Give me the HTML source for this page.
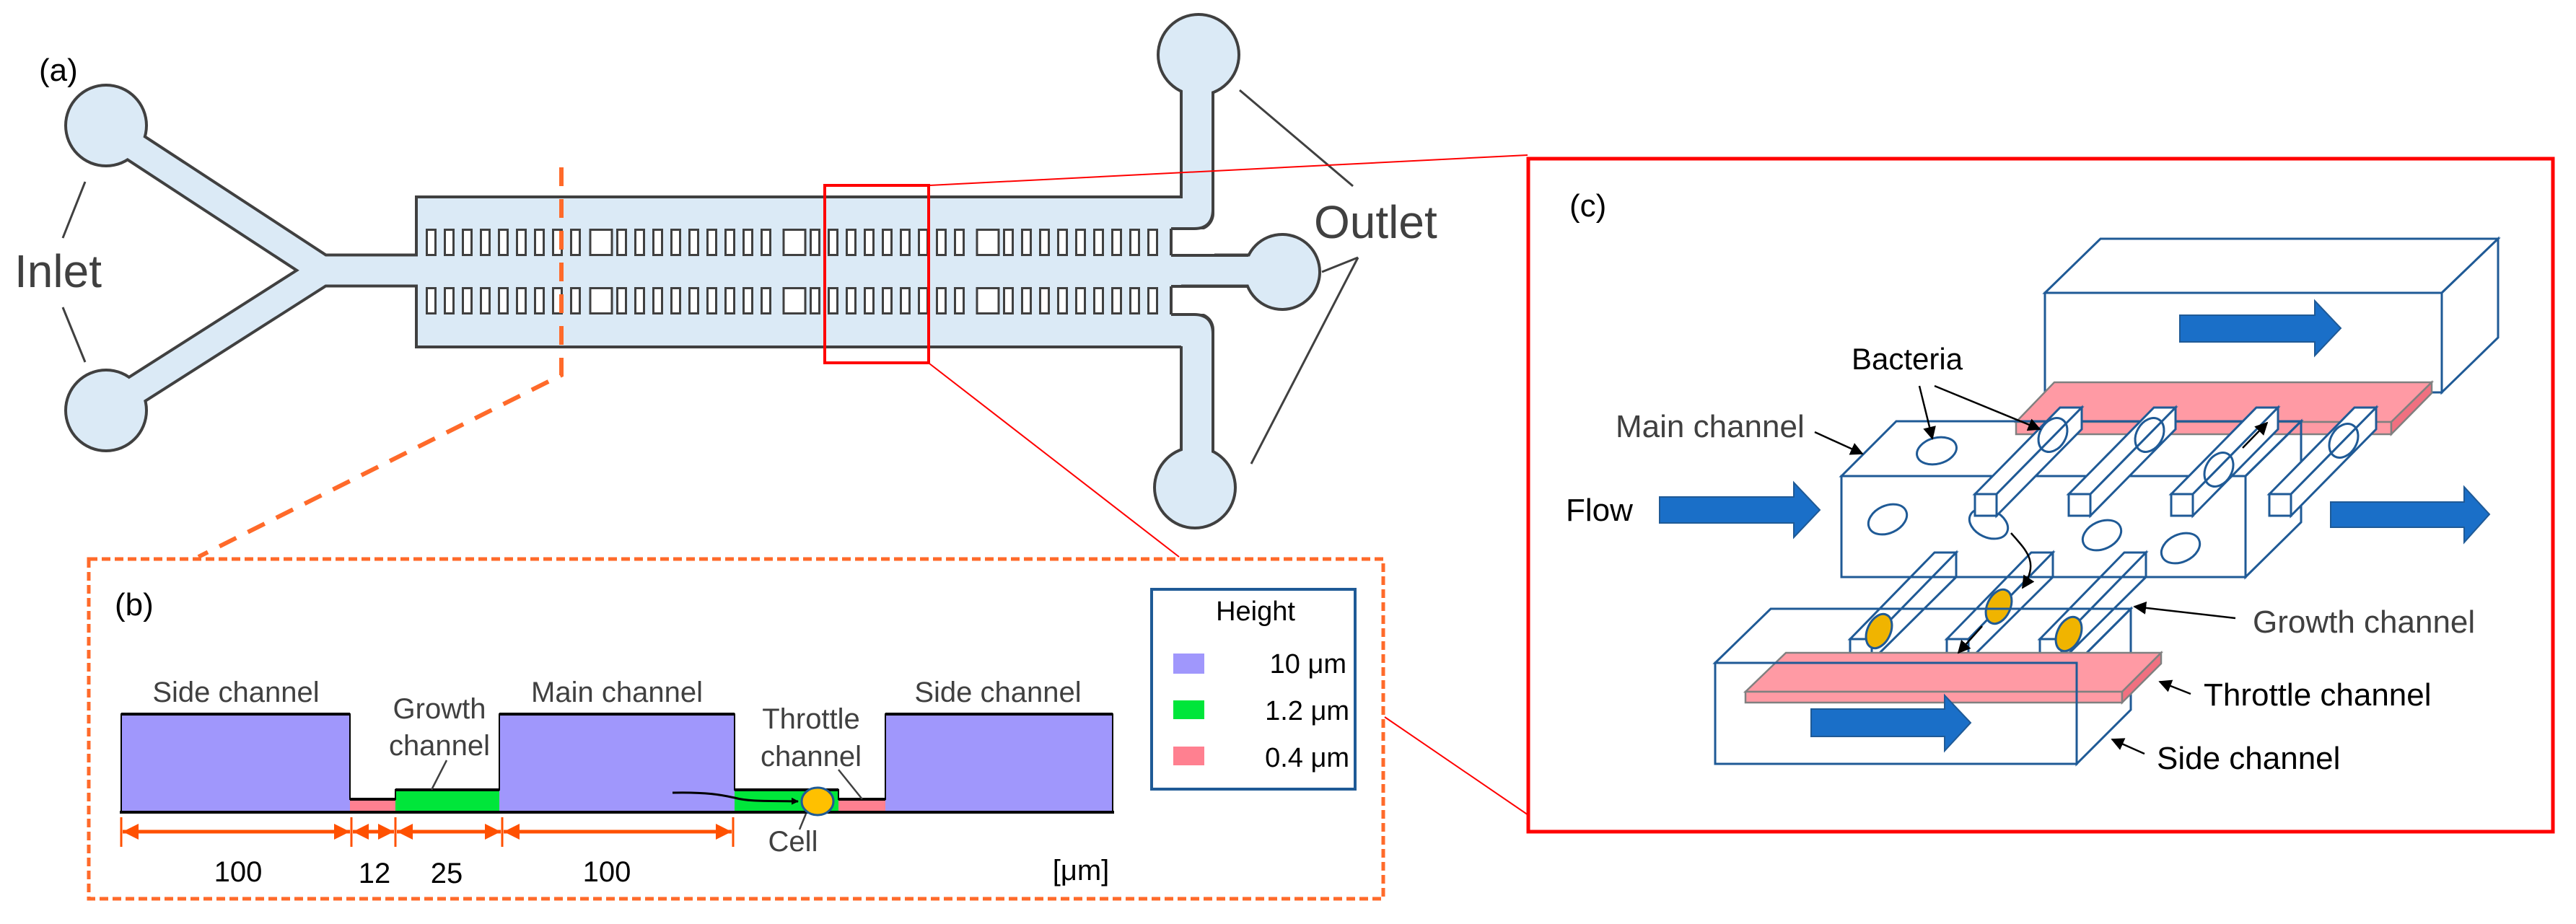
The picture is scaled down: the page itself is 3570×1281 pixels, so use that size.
<!DOCTYPE html>
<html><head><meta charset="utf-8"><style>html,body{margin:0;padding:0;background:#fff}svg{display:block}</style></head>
<body>
<svg width="3570" height="1281" viewBox="0 0 3570 1281" xmlns="http://www.w3.org/2000/svg" font-family="Liberation Sans, Arial, sans-serif">
<defs>
<pattern id="ch" patternUnits="userSpaceOnUse" width="25" height="40" x="0" y="0">
<rect x="2.5" y="1.5" width="12" height="35" fill="#fff" stroke="#404040" stroke-width="3"/>
</pattern>
<marker id="ab" markerWidth="10" markerHeight="10" refX="9" refY="5" orient="auto" markerUnits="userSpaceOnUse"><path d="M0,0 L10,5 L0,10 z" fill="#000"/></marker>
<marker id="ak" viewBox="0 0 10 10" markerWidth="18" markerHeight="18" refX="9" refY="5" orient="auto" markerUnits="userSpaceOnUse"><path d="M0,0 L10,5 L0,10 z" fill="#000"/></marker>
<marker id="ao" viewBox="0 0 10 10" markerWidth="22" markerHeight="22" refX="10" refY="5" orient="auto" markerUnits="userSpaceOnUse"><path d="M0,0 L10,5 L0,10 z" fill="#ff5000"/></marker>
<marker id="aos" viewBox="0 0 10 10" markerWidth="22" markerHeight="22" refX="0" refY="5" orient="auto" markerUnits="userSpaceOnUse"><path d="M10,0 L0,5 L10,10 z" fill="#ff5000"/></marker>
</defs>

<!-- ===== Panel (a) ===== -->
<text x="54" y="112" font-size="44" fill="#000">(a)</text>
<g stroke-linecap="butt" fill="none">
 <g stroke="#404040">
  <line x1="150" y1="180" x2="448" y2="375" stroke-width="44"/>
  <line x1="150" y1="565" x2="448" y2="375" stroke-width="44"/>
  <line x1="430" y1="375" x2="1777" y2="375" stroke-width="47"/>
  <path d="M1659,76 V296 L1620,296" stroke-width="48" stroke-linejoin="round"/>
  <path d="M1659,676 V457 L1620,457" stroke-width="48" stroke-linejoin="round"/>
 </g>
 <g fill="#404040" stroke="none">
  <circle cx="147" cy="174" r="58"/><circle cx="147" cy="569" r="58"/>
  <circle cx="1661" cy="76" r="58"/><circle cx="1656" cy="676" r="58"/>
  <circle cx="1777" cy="377" r="54"/>
  <rect x="575" y="271" width="1066" height="212"/>
 </g>
 <g stroke="#dbeaf6">
  <line x1="150" y1="180" x2="448" y2="375" stroke-width="36"/>
  <line x1="150" y1="565" x2="448" y2="375" stroke-width="36"/>
  <line x1="430" y1="375" x2="1777" y2="375" stroke-width="39"/>
  <path d="M1659,76 V296 L1600,296" stroke-width="40" stroke-linejoin="round"/>
  <path d="M1659,676 V457 L1600,457" stroke-width="40" stroke-linejoin="round"/>
 </g>
 <g fill="#dbeaf6" stroke="none">
  <circle cx="147" cy="174" r="54"/><circle cx="147" cy="569" r="54"/>
  <circle cx="1661" cy="76" r="54"/><circle cx="1656" cy="676" r="54"/>
  <circle cx="1777" cy="377" r="50"/>
  <rect x="579" y="275" width="1058" height="204"/>
  <rect x="1637" y="275" width="40" height="30"/>
  <rect x="1637" y="450" width="40" height="30"/>
 </g>
 <rect x="1623" y="318" width="60" height="35" fill="#fff"/>
 <rect x="1623" y="398" width="60" height="37" fill="#fff"/>
 <path d="M1623,317 H1655 Q1681,317 1681,290" stroke="#404040" stroke-width="4" fill="none"/>
 <path d="M1623,354 H1730" stroke="#404040" stroke-width="4"/>
 <path d="M1623,397 H1730" stroke="#404040" stroke-width="4"/>
 <path d="M1623,436 H1655 Q1681,436 1681,463" stroke="#404040" stroke-width="4" fill="none"/>
 <line x1="1623" y1="317" x2="1623" y2="354" stroke="#404040" stroke-width="4"/>
 <line x1="1623" y1="397" x2="1623" y2="436" stroke="#404040" stroke-width="4"/>
</g>
<g>
 <g transform="translate(589,317)"><rect x="0" y="0" width="225" height="40" fill="url(#ch)"/></g>
 <g transform="translate(853,317)"><rect x="0" y="0" width="225" height="40" fill="url(#ch)"/></g>
 <g transform="translate(1121,317)"><rect x="0" y="0" width="225" height="40" fill="url(#ch)"/></g>
 <g transform="translate(1389,317)"><rect x="0" y="0" width="225" height="40" fill="url(#ch)"/></g>
 <g transform="translate(589,398)"><rect x="0" y="0" width="225" height="40" fill="url(#ch)"/></g>
 <g transform="translate(853,398)"><rect x="0" y="0" width="225" height="40" fill="url(#ch)"/></g>
 <g transform="translate(1121,398)"><rect x="0" y="0" width="225" height="40" fill="url(#ch)"/></g>
 <g transform="translate(1389,398)"><rect x="0" y="0" width="225" height="40" fill="url(#ch)"/></g>
 <g fill="#fff" stroke="#404040" stroke-width="3">
  <rect x="818" y="318.5" width="30" height="35"/><rect x="1086" y="318.5" width="30" height="35"/><rect x="1354" y="318.5" width="30" height="35"/>
  <rect x="818" y="399.5" width="30" height="35"/><rect x="1086" y="399.5" width="30" height="35"/><rect x="1354" y="399.5" width="30" height="35"/>
 </g>
</g>
<text x="20" y="398" font-size="64" fill="#404040">Inlet</text>
<text x="1821" y="330" font-size="64" fill="#404040">Outlet</text>
<g stroke="#404040" stroke-width="3">
 <line x1="118" y1="252" x2="87" y2="330"/><line x1="87" y1="426" x2="118" y2="502"/>
 <line x1="1718" y1="125" x2="1875" y2="258"/><line x1="1882" y1="357" x2="1832" y2="377"/><line x1="1882" y1="357" x2="1734" y2="643"/>
</g>
<rect x="1143" y="257" width="144" height="246" fill="none" stroke="#ff0000" stroke-width="4"/>
<line x1="1288" y1="257" x2="2117" y2="215" stroke="#ff0000" stroke-width="2"/>
<line x1="1288" y1="504" x2="1634" y2="772" stroke="#ff0000" stroke-width="2"/>
<line x1="1919" y1="994" x2="2118" y2="1130" stroke="#ff0000" stroke-width="2"/>
<path d="M778,232 V520 L275,772" fill="none" stroke="#ff6a2a" stroke-width="6" stroke-dasharray="26,18"/>

<!-- ===== Panel (b) ===== -->
<rect x="123" y="775" width="1794" height="471" fill="none" stroke="#ff6a2a" stroke-width="5" stroke-dasharray="12,6"/>
<text x="159" y="853" font-size="44" fill="#000">(b)</text>
<g stroke="none">
 <rect x="168" y="990" width="317" height="136" fill="#a097fc"/>
 <rect x="485" y="1108" width="63" height="18" fill="#ff8090"/>
 <rect x="548" y="1095" width="144" height="31" fill="#00e63a"/>
 <rect x="692" y="990" width="326" height="136" fill="#a097fc"/>
 <rect x="1018" y="1095" width="144" height="31" fill="#00e63a"/>
 <rect x="1162" y="1108" width="65" height="18" fill="#ff8090"/>
 <rect x="1227" y="990" width="315" height="136" fill="#a097fc"/>
</g>
<path d="M168,1126 V990 H485 V1108 H548 V1095 H692 V990 H1018 V1095 H1162 V1108 H1227 V990 H1542 V1126 Z" fill="none" stroke="#000" stroke-width="2"/>
<g stroke="#000" stroke-width="4">
 <line x1="168" y1="990" x2="485" y2="990"/><line x1="692" y1="990" x2="1018" y2="990"/><line x1="1227" y1="990" x2="1542" y2="990"/>
 <line x1="485" y1="1108" x2="548" y2="1108"/><line x1="548" y1="1095" x2="692" y2="1095"/><line x1="1018" y1="1095" x2="1162" y2="1095"/><line x1="1162" y1="1108" x2="1227" y2="1108"/>
 <line x1="166" y1="1126" x2="1544" y2="1126"/>
</g>
<path d="M932,1099 C980,1098 1000,1102 1018,1106 C1040,1112 1070,1110 1106,1111" fill="none" stroke="#000" stroke-width="3" marker-end="url(#ab)"/>
<ellipse cx="1133" cy="1111" rx="22" ry="19" fill="#ffc000" stroke="#1f5a96" stroke-width="3"/>
<g font-size="40" fill="#404040" text-anchor="middle">
 <text x="327" y="973">Side channel</text>
 <text x="855" y="973">Main channel</text>
 <text x="1383" y="973">Side channel</text>
 <text x="609" y="996">Growth</text>
 <text x="609" y="1047">channel</text>
 <text x="1124" y="1010">Throttle</text>
 <text x="1124" y="1062">channel</text>
 <text x="1099" y="1180">Cell</text>
</g>
<g stroke="#404040" stroke-width="2.5">
 <line x1="619" y1="1054" x2="598" y2="1095"/><line x1="1162" y1="1067" x2="1195" y2="1108"/><line x1="1117" y1="1128" x2="1108" y2="1150"/>
</g>
<g stroke="#ff5000" stroke-width="3">
 <line x1="168" y1="1133" x2="168" y2="1174"/><line x1="487" y1="1133" x2="487" y2="1174"/><line x1="548" y1="1133" x2="548" y2="1174"/><line x1="696" y1="1133" x2="696" y2="1174"/><line x1="1016" y1="1133" x2="1016" y2="1174"/>
</g>
<g stroke="#ff5000" stroke-width="5" marker-end="url(#ao)" marker-start="url(#aos)">
 <line x1="170" y1="1153" x2="485" y2="1153"/>
 <line x1="489" y1="1153" x2="546" y2="1153"/>
 <line x1="550" y1="1153" x2="694" y2="1153"/>
 <line x1="698" y1="1153" x2="1014" y2="1153"/>
</g>
<g font-size="40" fill="#000" text-anchor="middle">
 <text x="330" y="1222">100</text><text x="519" y="1224">12</text><text x="619" y="1224">25</text><text x="841" y="1222">100</text><text x="1498" y="1220">[μm]</text>
</g>
<rect x="1596" y="817" width="282" height="277" fill="#fff" stroke="#1f5a96" stroke-width="4"/>
<text x="1740" y="860" font-size="38" fill="#000" text-anchor="middle">Height</text>
<rect x="1626" y="906" width="43" height="28" fill="#a097fc"/>
<rect x="1626" y="971" width="43" height="26" fill="#00e63a"/>
<rect x="1626" y="1035" width="43" height="26" fill="#ff8090"/>
<g font-size="38" fill="#000" text-anchor="end">
 <text x="1866" y="933">10 μm</text><text x="1870" y="998">1.2 μm</text><text x="1870" y="1063">0.4 μm</text>
</g>

<!-- ===== Panel (c) ===== -->
<rect x="2118" y="220" width="1420" height="933" fill="none" stroke="#ff0000" stroke-width="5"/>
<text x="2175" y="300" font-size="44" fill="#000">(c)</text>
<g stroke="#1f5a96" stroke-width="3" fill="none" stroke-linejoin="miter">
 <rect x="2834" y="406" width="550" height="138" fill="#fff"/>
 <polygon points="2834,406 2911,331 3462,331 3384,406" fill="#fff"/>
 <polygon points="3384,406 3462,331 3462,468 3384,544" fill="#fff"/>
</g>
<path d="M3021,437 H3208 V417 L3244,455 L3208,493 V474 H3021 Z" fill="#1a6fc8" stroke="#1f5a96" stroke-width="2"/>
<g stroke="#808080" stroke-width="2.5">
 <polygon points="2847,530 3370,530 3314,585 2794,585" fill="#ff9aa4"/>
 <rect x="2794" y="585" width="520" height="17" fill="#ff9aa4"/>
 <polygon points="3314,585 3370,530 3370,545 3314,602" fill="#f07080"/>
</g>
<g stroke="#1f5a96" stroke-width="3" fill="none">
 <rect x="2552" y="660" width="560" height="140"/>
 <polygon points="2552,660 2628,584 3189,584 3112,660"/>
 <polygon points="3112,660 3189,584 3189,724 3112,800"/>
 <ellipse cx="2684" cy="625" rx="28" ry="18" transform="rotate(-15 2684 625)"/>
 <ellipse cx="2616" cy="720" rx="28" ry="19" transform="rotate(-25 2616 720)"/>
 <ellipse cx="2756" cy="726" rx="28" ry="19" transform="rotate(25 2756 726)"/>
 <ellipse cx="2913" cy="742" rx="28" ry="19" transform="rotate(-25 2913 742)"/>
 <ellipse cx="3022" cy="760" rx="28" ry="19" transform="rotate(-25 3022 760)"/>
</g>
<g stroke="#1f5a96" stroke-width="3" fill="#fff">
 <polygon points="2737,685 2855,565 2885,565 2767,685"/><polygon points="2767,685 2885,565 2885,595 2767,715"/><rect x="2737" y="685" width="30" height="30"/>
 <polygon points="2867,685 2985,565 3015,565 2897,685"/><polygon points="2897,685 3015,565 3015,595 2897,715"/><rect x="2867" y="685" width="30" height="30"/>
 <polygon points="3009,685 3127,565 3157,565 3039,685"/><polygon points="3039,685 3157,565 3157,595 3039,715"/><rect x="3009" y="685" width="30" height="30"/>
 <polygon points="3145,685 3263,565 3293,565 3175,685"/><polygon points="3175,685 3293,565 3293,595 3175,715"/><rect x="3145" y="685" width="30" height="30"/>
</g>
<g stroke="#1f5a96" stroke-width="3" fill="none">
 <ellipse cx="2845" cy="603" rx="18" ry="25" transform="rotate(30 2845 603)"/>
 <ellipse cx="2979" cy="603" rx="18" ry="25" transform="rotate(30 2979 603)"/>
 <ellipse cx="3075" cy="651" rx="18" ry="25" transform="rotate(30 3075 651)"/>
 <ellipse cx="3248" cy="611" rx="18" ry="25" transform="rotate(30 3248 611)"/>
</g>
<g stroke="#1f5a96" stroke-width="3" fill="#fff">
 <polygon points="2564,886 2681,766 2711,766 2594,886"/><polygon points="2594,886 2711,766 2711,800 2594,916"/><rect x="2564" y="886" width="30" height="30"/>
 <polygon points="2698,886 2815,766 2845,766 2728,886"/><polygon points="2728,886 2845,766 2845,800 2728,916"/><rect x="2698" y="886" width="30" height="30"/>
 <polygon points="2827,886 2944,766 2974,766 2857,886"/><polygon points="2857,886 2974,766 2974,800 2857,916"/><rect x="2827" y="886" width="30" height="30"/>
</g>
<line x1="2552" y1="800" x2="3112" y2="800" stroke="#1f5a96" stroke-width="3"/>
<g fill="#f0b400" stroke="#1f5a96" stroke-width="3">
 <ellipse cx="2604" cy="875" rx="16" ry="25" transform="rotate(25 2604 875)"/>
 <ellipse cx="2770" cy="841" rx="16" ry="25" transform="rotate(25 2770 841)"/>
 <ellipse cx="2867" cy="879" rx="16" ry="25" transform="rotate(25 2867 879)"/>
</g>
<g stroke="#1f5a96" stroke-width="3" fill="none">
 <polygon points="2377,919 2454,844 2953,844 2878,919"/>
 <polygon points="2878,919 2953,844 2953,984 2878,1059"/>
</g>
<g stroke="#808080" stroke-width="2.5">
 <polygon points="2475,905 2995,905 2941,959 2419,959" fill="#ff9aa4"/>
 <rect x="2419" y="959" width="522" height="15" fill="#ff9aa4"/>
 <polygon points="2941,959 2995,905 2995,920 2941,974" fill="#f07080"/>
</g>
<rect x="2377" y="919" width="501" height="140" fill="none" stroke="#1f5a96" stroke-width="3"/>
<path d="M2510,983 H2695 V964 L2731,1002 L2695,1041 V1021 H2510 Z" fill="#1a6fc8" stroke="#1f5a96" stroke-width="2"/>
<path d="M2300,689 H2486 V669 L2522,707 L2486,745 V725 H2300 Z" fill="#1a6fc8" stroke="#1f5a96" stroke-width="2"/>
<path d="M3230,696 H3415 V675 L3450,713 L3415,752 V731 H3230 Z" fill="#1a6fc8" stroke="#1f5a96" stroke-width="2"/>
<text x="2170" y="722" font-size="44" fill="#000">Flow</text>
<text x="2566" y="512" font-size="42" fill="#000">Bacteria</text>
<text x="2239" y="606" font-size="44" fill="#404040">Main channel</text>
<text x="3122" y="877" font-size="44" fill="#404040">Growth channel</text>
<text x="3054" y="978" font-size="44" fill="#000">Throttle channel</text>
<text x="2989" y="1066" font-size="44" fill="#000">Side channel</text>
<g stroke="#000" stroke-width="2.5" fill="none" marker-end="url(#ak)">
 <line x1="2660" y1="535" x2="2678" y2="608"/>
 <line x1="2681" y1="535" x2="2827" y2="595"/>
 <line x1="2515" y1="599" x2="2581" y2="629"/>
 <line x1="3098" y1="857" x2="2958" y2="841"/>
 <line x1="3036" y1="962" x2="2993" y2="945"/>
 <line x1="2972" y1="1045" x2="2927" y2="1025"/>
 <path d="M2787,739 C2810,765 2826,780 2803,815"/>
 <line x1="2747" y1="868" x2="2714" y2="905"/>
 <line x1="3108" y1="621" x2="3142" y2="586"/>
</g>
</svg>
</body></html>
